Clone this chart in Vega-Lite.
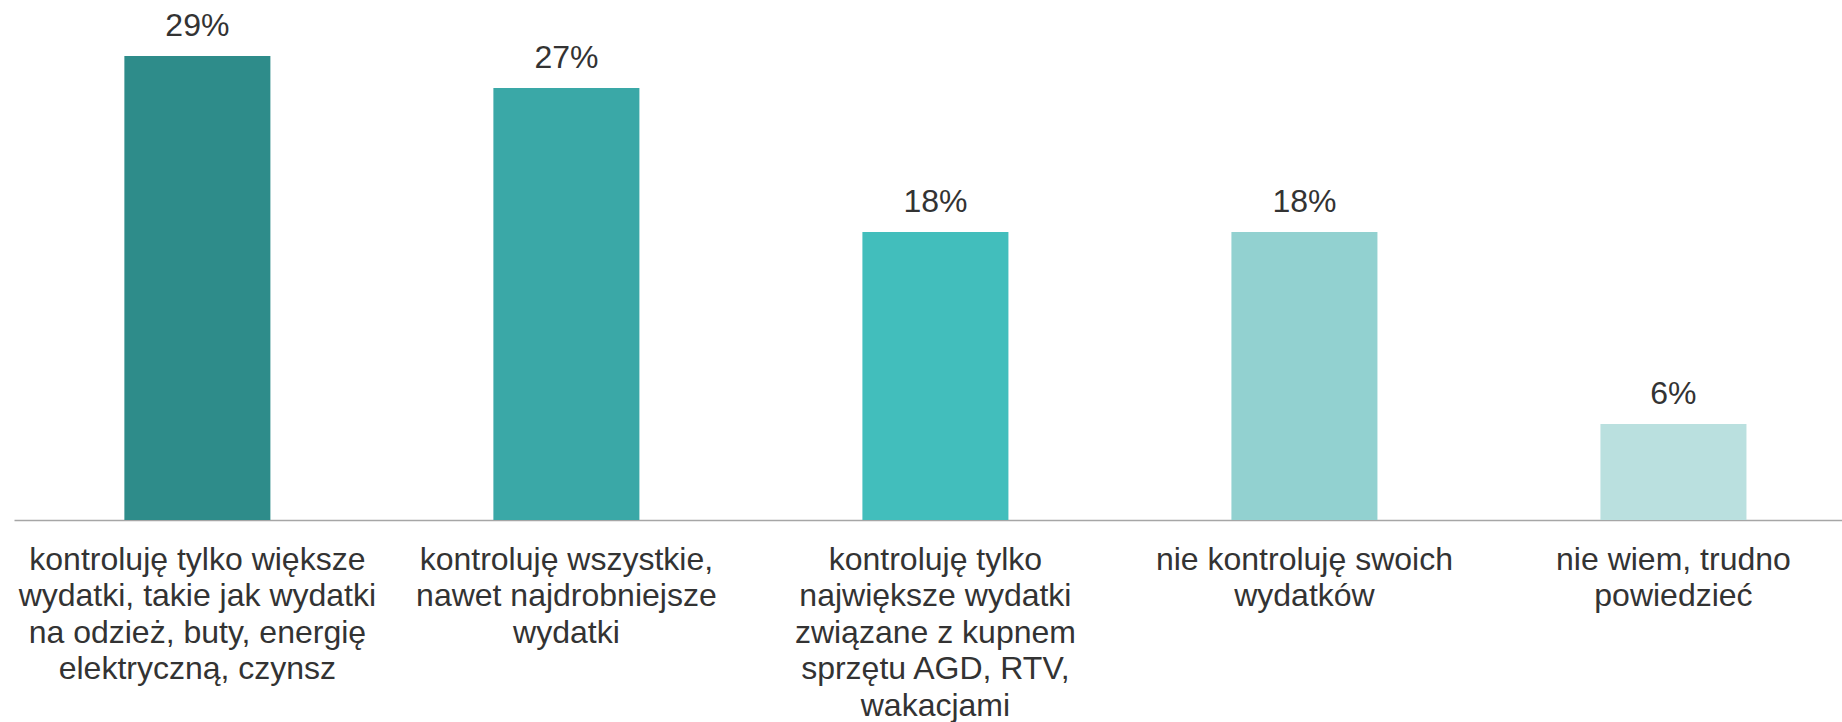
{
  "$schema": "https://vega.github.io/schema/vega-lite/v6.json",
  "autosize": {"type": "none"},
  "width": 1828,
  "height": 520,
  "padding": {"left": 14, "top": 0, "right": 0, "bottom": 202},
  "background": "white",
  "config": {"view": {"stroke": null}, "font": "Liberation Sans"},
  "data": {"values": [
    {"kat": "kontroluję tylko większe|wydatki, takie jak wydatki|na odzież, buty, energię|elektryczną, czynsz", "v": 0.29},
    {"kat": "kontroluję wszystkie,|nawet najdrobniejsze|wydatki", "v": 0.27},
    {"kat": "kontroluję tylko|największe wydatki|związane z kupnem|sprzętu AGD, RTV,|wakacjami", "v": 0.18},
    {"kat": "nie kontroluję swoich|wydatków", "v": 0.18},
    {"kat": "nie wiem, trudno|powiedzieć", "v": 0.06}
  ]},
  "encoding": {
    "x": {
      "field": "kat", "type": "nominal", "sort": null,
      "scale": {"paddingInner": 0.6043, "paddingOuter": 0.279, "align": 0.536},
      "axis": {
        "title": null, "labelAngle": 0, "ticks": false, "labelPadding": 24,
        "labelExpr": "split(datum.value, '|')",
        "labelFont": "Liberation Sans", "labelFontSize": 32, "labelColor": "#333333",
        "labelLineHeight": 36.5, "labelLimit": 0,
        "domainColor": "#A6A6A6", "domainWidth": 1.5
      }
    },
    "y": {
      "field": "v", "type": "quantitative",
      "scale": {"domain": [0, 0.325], "nice": false, "zero": true},
      "axis": null
    }
  },
  "layer": [
    {
      "mark": {"type": "bar"},
      "encoding": {
        "color": {
          "field": "kat", "type": "nominal", "legend": null,
          "scale": {
            "domain": [
              "kontroluję tylko większe|wydatki, takie jak wydatki|na odzież, buty, energię|elektryczną, czynsz",
              "kontroluję wszystkie,|nawet najdrobniejsze|wydatki",
              "kontroluję tylko|największe wydatki|związane z kupnem|sprzętu AGD, RTV,|wakacjami",
              "nie kontroluję swoich|wydatków",
              "nie wiem, trudno|powiedzieć"
            ],
            "range": ["#2E8C8A", "#3AA8A7", "#42BEBC", "#92D1D0", "#BAE0DF"]
          }
        }
      }
    },
    {
      "mark": {"type": "text", "baseline": "alphabetic", "dy": -20, "fontSize": 32, "color": "#333333", "font": "Liberation Sans"},
      "encoding": {"text": {"field": "v", "type": "quantitative", "format": ".0%"}}
    }
  ]
}
